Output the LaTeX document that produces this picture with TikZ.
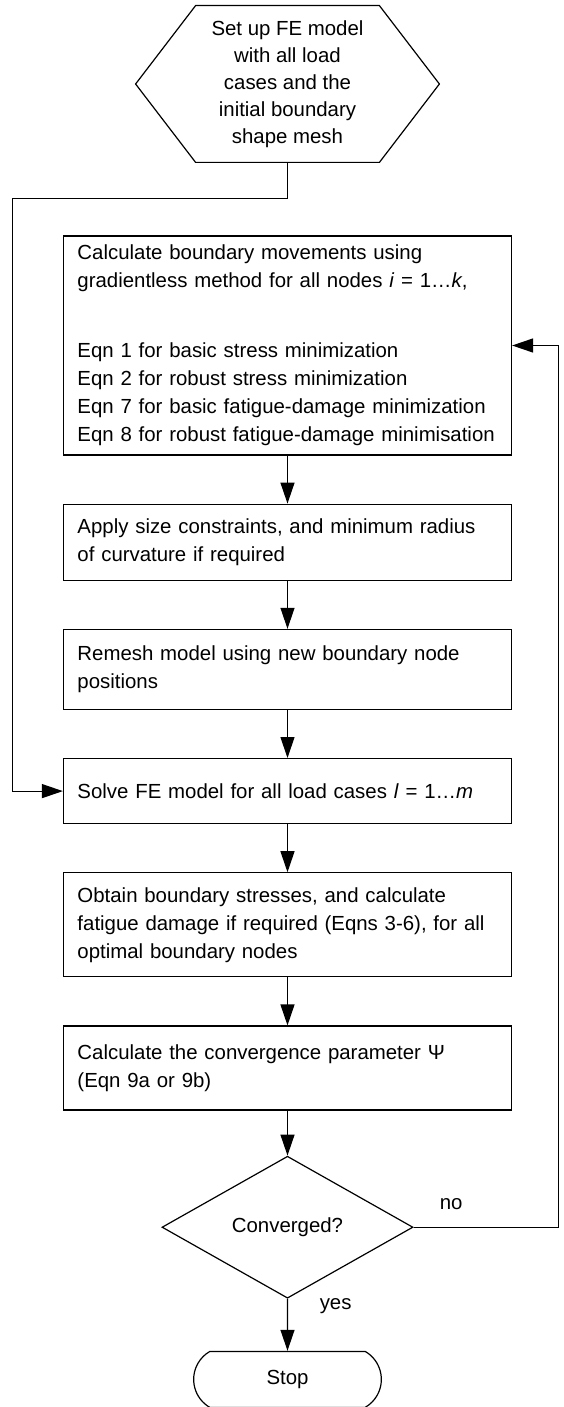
\documentclass[tikz,border=0pt]{standalone}
\usepackage{fontspec}
\setmainfont{Liberation Sans}
\usepackage{tikz}
\usetikzlibrary{shapes.geometric,shapes.misc,positioning,arrows.meta}

\begin{document}
\begin{tikzpicture}[
  font=\fontsize{10.2pt}{14pt}\selectfont,
  process/.style={draw, rectangle, text width=210pt, inner xsep=7pt, align=left, line width=0.6pt},
  decision/.style={draw, diamond, minimum width=125.5pt, minimum height=71pt, inner sep=0pt, line width=0.6pt},
  terminal/.style={draw, rounded rectangle, rounded rectangle arc length=120, minimum width=100.5pt, minimum height=28pt, line width=0.6pt},
  arrow/.style={-{Triangle[length=10.5pt,width=7pt]}, line width=0.6pt},
  node distance=24pt
]
\useasboundingbox (-143.75pt,42pt) rectangle (137.75pt,-661.5pt);
\node[minimum width=151.5pt, minimum height=78pt, align=center, font=\fontsize{10.2pt}{13.5pt}\selectfont] (setup) {Set up FE model\\with all load\\cases and the\\initial boundary\\shape mesh};
\draw[line width=0.6pt] ([xshift=30pt]setup.north west) -- ([xshift=-30pt]setup.north east) -- (setup.east) -- ([xshift=-30pt]setup.south east) -- ([xshift=30pt]setup.south west) -- (setup.west) -- cycle;
\node[process, minimum height=109.5pt, below=36.5pt of setup] (calc) {Calculate boundary movements using\\gradientless method for all nodes \textit{i} = 1\ldots\textit{k},\\[21pt]Eqn 1 for basic stress minimization\\Eqn 2 for robust stress minimization\\Eqn 7 for basic fatigue-damage minimization\\Eqn 8 for robust fatigue-damage minimisation};
\node[process, minimum height=38pt, below=of calc] (apply) {Apply size constraints, and minimum radius\\of curvature if required};
\node[process, minimum height=40pt, below=of apply] (remesh) {Remesh model using new boundary node\\positions};
\node[process, minimum height=32.5pt, below=of remesh] (solve) {Solve FE model for all load cases \textit{l} = 1\ldots\textit{m}};
\node[process, minimum height=52pt, below=of solve] (stresses) {Obtain boundary stresses, and calculate\\fatigue damage if required (Eqns 3-6), for all\\optimal boundary nodes};
\node[process, minimum height=42pt, below=of stresses] (psi) {Calculate the convergence parameter Ψ\\(Eqn 9a or 9b)};
\node[decision, below=22.5pt of psi] (check) {Converged?};
\node[terminal, below=26pt of check] (stop) {Stop};
\coordinate[below=18pt of setup.south] (split);
\coordinate[left=25pt of solve.west] (leftrail);
\coordinate[right=23pt of calc.east] (rightrail);
\draw[arrow] (calc) -- (apply);
\draw[arrow] (apply) -- (remesh);
\draw[arrow] (remesh) -- (solve);
\draw[arrow] (solve) -- (stresses);
\draw[arrow] (stresses) -- (psi);
\draw[arrow] (psi) -- (check);
\draw[arrow] (setup.south) -- (split) -| (leftrail) -- (solve.west);
\draw[arrow] (check.east) -- node[above=5pt, pos=0.26] {no} (check.east -| rightrail) |- (calc.east);
\draw[arrow] (check) -- node[right=12.5pt, pos=0.15] {yes} (stop);
\end{tikzpicture}
\end{document}
